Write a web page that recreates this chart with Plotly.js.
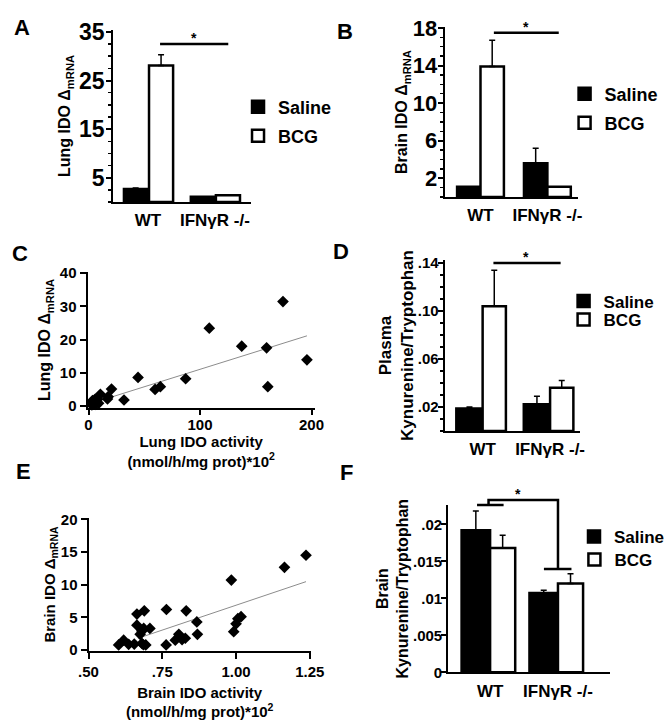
<!DOCTYPE html>
<html>
<head>
<meta charset="utf-8">
<script src="https://cdn.plot.ly/plotly-3.0.1.min.js"></script>
<style>html,body{margin:0;padding:0;background:#fff;}#chart{width:670px;height:720px;}</style>
</head>
<body>
<div id="chart"></div>
<script>
// ---------- data ----------
const groups = ['WT', 'IFNγR -/-'];
const seriesNames = ['Saline', 'BCG'];

// A: Lung IDO ΔmRNA
const lungMrnaSaline = [2.7, 1.1];
const lungMrnaSalineErr = [0.2, 0];
const lungMrnaBCG = [28.1, 1.4];
const lungMrnaBCGErr = [2.2, 0];

// B: Brain IDO ΔmRNA
const brainMrnaSaline = [1.1, 3.6];
const brainMrnaSalineErr = [0, 1.6];
const brainMrnaBCG = [13.9, 1.1];
const brainMrnaBCGErr = [2.8, 0];

// C: Lung IDO activity vs Lung IDO ΔmRNA
const lungActivity = [174.4, 108.3, 137.4, 159.7, 195.9, 160.8, 87.1, 44.4, 64.4, 59.7, 20.6, 10.6, 17.6, 17.0, 31.8,
                      3, 4, 5, 6, 7, 8, 5.5, 9, 4.5, 3.5];
const lungMrna = [31.4, 23.4, 18.0, 17.5, 13.9, 5.8, 8.2, 8.6, 5.8, 5.0, 5.1, 3.5, 2.8, 2.1, 1.8,
                  0.3, 0.8, 1.5, 0.5, 1.2, 2.0, 1.9, 0.8, 1.2, 1.6];
const lungFitX = [7.3, 195.9];
const lungFitY = [1.3, 21.1];

// D: Plasma Kynurenine/Tryptophan
const plasmaKtSaline = [0.0187, 0.0223];
const plasmaKtSalineErr = [0.0013, 0.0067];
const plasmaKtBCG = [0.104, 0.036];
const plasmaKtBCGErr = [0.030, 0.006];

// E: Brain IDO activity vs Brain IDO ΔmRNA
const brainActivity = [1.237, 1.164, 0.984, 1.017, 1.006, 1.000, 0.992, 0.867, 0.869, 0.831, 0.764, 0.763, 0.806,
                       0.794, 0.817, 0.828, 0.689, 0.664, 0.664, 0.687, 0.708, 0.675, 0.681, 0.602, 0.619, 0.636,
                       0.655, 0.686, 0.694, 0.681];
const brainMrna = [14.5, 12.65, 10.7, 5.1, 4.8, 4.0, 2.8, 4.3, 2.4, 6.0, 6.2, 0.77, 2.4,
                   1.5, 1.6, 1.8, 6.0, 5.5, 3.8, 3.3, 3.3, 2.4, 2.9, 0.77, 1.5, 0.87,
                   0.9, 0.8, 0.77, 1.0];
const brainFitX = [0.668, 1.237];
const brainFitY = [1.8, 10.46];

// F: Brain Kynurenine/Tryptophan
const brainKtSaline = [0.0192, 0.0107];
const brainKtSalineErr = [0.0026, 0.0004];
const brainKtBCG = [0.0168, 0.0120];
const brainKtBCGErr = [0.0017, 0.0013];

// tick labels
const tickA = [5, 15, 25, 35];
const tickB = [2, 6, 10, 14, 18];
const tickC_y = [0, 10, 20, 30, 40];
const tickC_x = [0, 100, 200];
const tickD = [0.02, 0.06, 0.10, 0.14];
const tickD_text = ['.02', '.06', '.10', '.14'];
const tickE_y = [0, 5, 10, 15, 20];
const tickE_x = [0.5, 0.75, 1.0, 1.25];
const tickE_x_text = ['.50', '.75', '1.00', '1.25'];
const tickF = [0, 0.005, 0.01, 0.015, 0.02];
const tickF_text = ['0', '.005', '.01', '.015', '.02'];

// ---------- helpers ----------
const W = 670, H = 720;
const fx = px => px / W;
const fy = py => 1 - py / H;
const FONT = 'Liberation Sans, Arial, sans-serif';
const f = (size, weight) => ({family: FONT, size: size, color: '#000', weight: weight || 'bold'});

function barPair(xa, ya, sal, salErr, bcg, bcgErr, lgS, lgB, offS, wS, offB, wB) {
  const common = {type: 'bar', x: groups, xaxis: xa, yaxis: ya};
  return [
    Object.assign({}, common, {name: seriesNames[0], y: sal, legend: lgS, offset: offS, width: wS,
      marker: {color: '#000', line: {color: '#000', width: 2.5}},
      error_y: {type: 'data', symmetric: false, array: salErr, arrayminus: sal.map(() => 0), color: '#000', thickness: 1.5, width: 3}}),
    Object.assign({}, common, {name: seriesNames[1], y: bcg, legend: lgB, offset: offB, width: wB,
      marker: {color: '#fff', line: {color: '#000', width: 2.5}},
      error_y: {type: 'data', symmetric: false, array: bcgErr, arrayminus: bcg.map(() => 0), color: '#000', thickness: 1.5, width: 3}})
  ];
}

const traces = [].concat(
  barPair('x', 'y', lungMrnaSaline, lungMrnaSalineErr, lungMrnaBCG, lungMrnaBCGErr, 'legend', 'legend2', -0.36, 0.35, 0.015, 0.36),
  barPair('x2', 'y2', brainMrnaSaline, brainMrnaSalineErr, brainMrnaBCG, brainMrnaBCGErr, 'legend3', 'legend4', -0.35, 0.35, 0, 0.35),
  barPair('x4', 'y4', plasmaKtSaline, plasmaKtSalineErr, plasmaKtBCG, plasmaKtBCGErr, 'legend5', 'legend6', -0.39, 0.39, 0, 0.345),
  barPair('x6', 'y6', brainKtSaline, brainKtSalineErr, brainKtBCG, brainKtBCGErr, 'legend7', 'legend8', -0.42, 0.42, 0, 0.37),
  [
    {type: 'scatter', mode: 'lines', x: lungFitX, y: lungFitY, xaxis: 'x3', yaxis: 'y3', showlegend: false,
     line: {color: '#8c8c8c', width: 1}},
    {type: 'scatter', mode: 'markers', x: lungActivity, y: lungMrna, xaxis: 'x3', yaxis: 'y3', showlegend: false,
     marker: {symbol: 'diamond', size: 9, color: '#000'}, cliponaxis: false},
    {type: 'scatter', mode: 'lines', x: brainFitX, y: brainFitY, xaxis: 'x5', yaxis: 'y5', showlegend: false,
     line: {color: '#8c8c8c', width: 1}},
    {type: 'scatter', mode: 'markers', x: brainActivity, y: brainMrna, xaxis: 'x5', yaxis: 'y5', showlegend: false,
     marker: {symbol: 'diamond', size: 9, color: '#000'}, cliponaxis: false}
  ]
);

const baseAx = {showline: true, linecolor: '#000', linewidth: 2, showgrid: false, zeroline: false, automargin: false,
                ticks: 'outside', tickcolor: '#000', tickwidth: 2, ticklen: 6, fixedrange: true};
const catX = (domain, range, anchor) => Object.assign({}, baseAx, {
  domain: domain, range: range, anchor: anchor, type: 'category', ticks: '', tickfont: f(17), ticklabelstandoff: 2});

function yTitle(text, size, standoff) { return {text: text, font: f(size), standoff: standoff}; }

function legendAt(xpx, ypx, size) {
  return {x: fx(xpx), y: fy(ypx), xanchor: 'left', yanchor: 'middle', bgcolor: 'rgba(0,0,0,0)',
          borderwidth: 0, font: f(size), itemclick: false, itemdoubleclick: false};
}

const layout = {
  width: W, height: H, margin: {l: 0, r: 0, t: 0, b: 0},
  paper_bgcolor: '#fff', plot_bgcolor: 'rgba(0,0,0,0)',
  barmode: 'overlay', font: f(15),
  // A
  xaxis: catX([fx(115), fx(255)], [-0.522, 1.537], 'y'),
  yaxis: Object.assign({}, baseAx, {domain: [fy(202), fy(30)], range: [0, 35.4], anchor: 'x',
    tickmode: 'array', tickvals: tickA, tickfont: f(23), ticklen: 5, ticklabelstandoff: -3,
    minor: {tickmode: 'linear', tick0: 0, dtick: 2.5, ticks: 'outside', ticklen: 3, tickwidth: 1.5, tickcolor: '#000'},
    title: yTitle('Lung IDO Δ<sub>mRNA</sub>', 16, 4)}),
  // B
  xaxis2: catX([fx(452), fx(588)], [-0.537, 1.463], 'y2'),
  yaxis2: Object.assign({}, baseAx, {domain: [fy(197), fy(27)], range: [0, 18.1], anchor: 'x2',
    tickmode: 'array', tickvals: tickB, tickfont: f(22), ticklen: 5, ticklabelstandoff: -4,
    minor: {tickmode: 'linear', tick0: 0, dtick: 1, ticks: 'outside', ticklen: 3, tickwidth: 1.5, tickcolor: '#000'},
    title: yTitle('Brain IDO Δ<sub>mRNA</sub>', 16, 0)}),
  // C
  xaxis3: Object.assign({}, baseAx, {domain: [fx(89), fx(320)], range: [-0.9, 202.9], anchor: 'y3',
    tickmode: 'array', tickvals: tickC_x, tickfont: f(15), ticklen: 5, ticklabelstandoff: -3,
    title: {text: 'Lung IDO activity<br>(nmol/h/mg prot)*10<sup>2</sup>', font: f(15), standoff: 0}}),
  yaxis3: Object.assign({}, baseAx, {domain: [fy(408), fy(272)], range: [-0.6, 40.3], anchor: 'x3',
    tickmode: 'array', tickvals: tickC_y, tickfont: f(15),
    title: yTitle('Lung IDO Δ<sub>mRNA</sub>', 16, 5)}),
  // D
  xaxis4: catX([fx(452), fx(590)], [-0.564, 1.448], 'y4'),
  yaxis4: Object.assign({}, baseAx, {domain: [fy(431), fy(260)], range: [0, 0.1425], anchor: 'x4',
    tickmode: 'array', tickvals: tickD, ticktext: tickD_text, tickfont: f(15), ticklen: 5, ticklabelstandoff: -4,
    minor: {tickmode: 'linear', tick0: 0, dtick: 0.01, ticks: 'outside', ticklen: 3, tickwidth: 1.5, tickcolor: '#000'},
    title: yTitle('Plasma<br>Kynurenine/Tryptophan', 17, 0)}),
  // E
  xaxis5: Object.assign({}, baseAx, {domain: [fx(90), fx(316)], range: [0.5, 1.2533], anchor: 'y5',
    tickmode: 'array', tickvals: tickE_x, ticktext: tickE_x_text, tickfont: f(15), ticklabelstandoff: 0,
    title: {text: 'Brain IDO activity<br>(nmol/h/mg prot)*10<sup>2</sup>', font: f(15), standoff: 8}}),
  yaxis5: Object.assign({}, baseAx, {domain: [fy(651), fy(518)], range: [-0.153, 20.2], anchor: 'x5',
    tickmode: 'array', tickvals: tickE_y, tickfont: f(15),
    title: yTitle('Brain IDO Δ<sub>mRNA</sub>', 15, 2)}),
  // F
  xaxis6: catX([fx(455.7), fx(620)], [-0.617, 1.764], 'y6'),
  yaxis6: Object.assign({}, baseAx, {domain: [fy(672.3), fy(505)], range: [0, 0.0226], anchor: 'x6',
    tickmode: 'array', tickvals: tickF, ticktext: tickF_text, tickfont: f(15), ticklen: 5, ticklabelstandoff: -4,
    title: yTitle('Brain<br>Kynurenine/Tryptophan', 16, 0)}),

  legend: legendAt(242, 107, 18), legend2: legendAt(242, 136, 18),
  legend3: legendAt(574, 94, 18), legend4: legendAt(574, 123, 18),
  legend5: legendAt(573, 301.5, 17), legend6: legendAt(573, 320, 17),
  legend7: legendAt(584, 537, 17), legend8: legendAt(584, 560, 17),

  shapes: [
    {type: 'line', xref: 'x', yref: 'y', x0: 0.18, x1: 1.2, y0: 32.5, y1: 32.5, line: {color: '#000', width: 2.5}},
    {type: 'line', xref: 'x2', yref: 'y2', x0: 0.2, x1: 1.17, y0: 17.5, y1: 17.5, line: {color: '#000', width: 2.5}},
    {type: 'line', xref: 'x4', yref: 'y4', x0: 0.16, x1: 1.156, y0: 0.14, y1: 0.14, line: {color: '#000', width: 2.5}},
    // F bracket (paper coordinates)
    {type: 'path', xref: 'paper', yref: 'paper',
     path: `M${fx(496.7)},${fy(505)} L${fx(496.7)},${fy(500)} L${fx(567.3)},${fy(500)} L${fx(567.3)},${fy(569)}`,
     line: {color: '#000', width: 2.5}},
    {type: 'line', xref: 'paper', yref: 'paper', x0: fx(485), x1: fx(512), y0: fy(505), y1: fy(505), line: {color: '#000', width: 2.5}},
    {type: 'line', xref: 'paper', yref: 'paper', x0: fx(553), x1: fx(581), y0: fy(569), y1: fy(569), line: {color: '#000', width: 2.5}}
  ],
  annotations: [
    {text: '*', xref: 'x', yref: 'y', x: 0.68, y: 32.5, yanchor: 'bottom', showarrow: false, font: f(14), yshift: -4},
    {text: '*', xref: 'x2', yref: 'y2', x: 0.68, y: 17.5, yanchor: 'bottom', showarrow: false, font: f(14), yshift: -4},
    {text: '*', xref: 'x4', yref: 'y4', x: 0.646, y: 0.14, yanchor: 'bottom', showarrow: false, font: f(14), yshift: -4},
    {text: '*', xref: 'paper', yref: 'paper', x: fx(532), y: fy(500), yanchor: 'bottom', showarrow: false, font: f(14), yshift: -4},
    {text: 'A', xref: 'paper', yref: 'paper', x: fx(12), y: fy(13), showarrow: false, font: f(22)},
    {text: 'B', xref: 'paper', yref: 'paper', x: fx(351), y: fy(17), showarrow: false, font: f(22)},
    {text: 'C', xref: 'paper', yref: 'paper', x: fx(10), y: fy(239), showarrow: false, font: f(22)},
    {text: 'D', xref: 'paper', yref: 'paper', x: fx(347), y: fy(237), showarrow: false, font: f(22)},
    {text: 'E', xref: 'paper', yref: 'paper', x: fx(14), y: fy(486), showarrow: false, font: f(22)},
    {text: 'F', xref: 'paper', yref: 'paper', x: fx(352), y: fy(487), showarrow: false, font: f(22)}
  ]
};

Plotly.newPlot('chart', traces, layout, {displayModeBar: false, staticPlot: true});
</script>
</body>
</html>
